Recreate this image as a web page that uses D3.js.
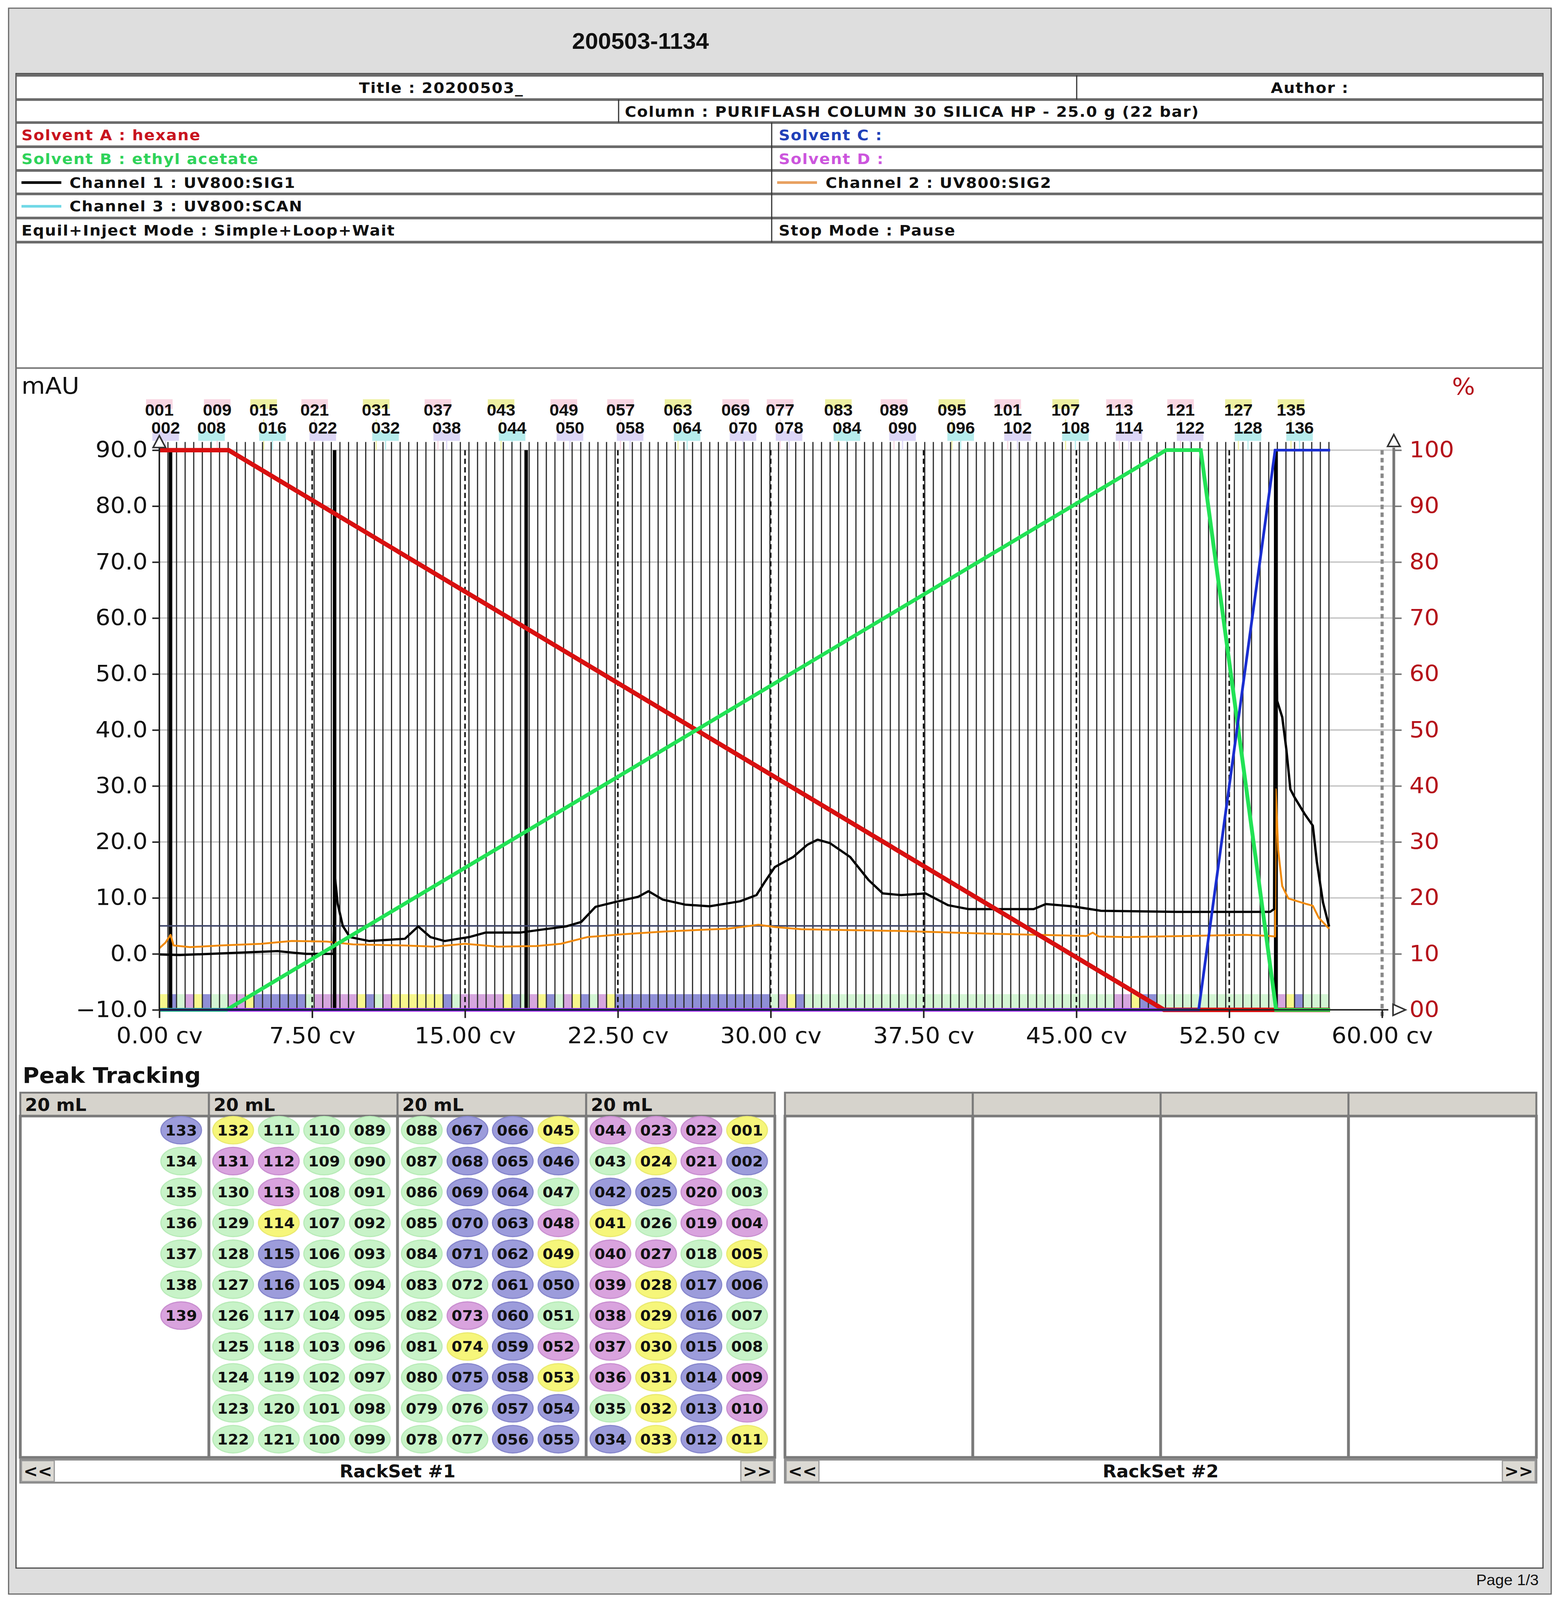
<!DOCTYPE html>
<html>
<head>
<meta charset="utf-8">
<script src="https://cdn.jsdelivr.net/npm/d3@7"></script>
<style>
  html, body { margin: 0; padding: 0; background: #fff; overflow: hidden; }
  svg { display: block; }
</style>
</head>
<body>
<div id="chart"></div>
<script>
// ---- run info ----
var runId = "200503-1134";
var infoTitle = "Title : 20200503_";
var infoAuthor = "Author :";
var infoColumn = "Column : PURIFLASH COLUMN 30 SILICA HP - 25.0 g (22 bar)";
var infoLeft = ["Solvent A : hexane", "Solvent B : ethyl acetate", "Channel 1 : UV800:SIG1", "Channel 3 : UV800:SCAN", "Equil+Inject Mode : Simple+Loop+Wait"];
var infoRight = ["Solvent C :", "Solvent D :", "Channel 2 : UV800:SIG2", "", "Stop Mode : Pause"];
var pageLabel = "Page 1/3";

// ---- axes ----
var mauTicks = [-10, 0, 10, 20, 30, 40, 50, 60, 70, 80, 90];
var cvTicks = [0, 7.5, 15, 22.5, 30, 37.5, 45, 52.5, 60];
var pctTicks = [0, 10, 20, 30, 40, 50, 60, 70, 80, 90, 100];

// ---- detector traces [cv, mAU] ----
var channel1 = [[0, -0.1], [1.0, -0.2], [2.5, 0.0], [4.5, 0.3], [5.8, 0.5], [6.6, 0.2], [7.2, 0.0], [8.55, 0.0],
  [8.6, 14.3], [8.75, 9.0], [9.0, 5.0], [9.35, 3.0], [10.3, 2.3], [11.2, 2.5], [12.05, 2.7], [12.7, 4.9],
  [13.3, 3.0], [14.0, 2.3], [15.2, 3.0], [16.0, 3.8], [17.7, 3.8], [18.7, 4.3], [19.95, 4.9], [20.7, 5.7],
  [21.4, 8.4], [22.4, 9.3], [23.5, 10.2], [24.0, 11.2], [24.7, 9.7], [25.8, 8.8], [27.0, 8.5], [28.5, 9.4],
  [29.3, 10.5], [29.7, 12.8], [30.2, 15.5], [31.1, 17.3], [31.8, 19.5], [32.3, 20.4], [32.9, 19.8], [33.9, 17.3],
  [34.8, 13.2], [35.5, 10.8], [36.4, 10.5], [37.6, 10.8], [38.7, 8.7], [39.7, 8.0], [42.9, 8.0], [43.5, 8.9],
  [44.8, 8.5], [46.2, 7.7], [49.9, 7.5], [54.5, 7.5], [54.7, 8.0], [54.76, 84.0], [54.85, 45.2], [55.1, 42.3],
  [55.3, 36.6], [55.5, 29.4], [55.7, 28.0], [56.2, 25.0], [56.6, 22.9], [56.8, 16.4], [57.1, 9.2], [57.4, 4.9]];
var channel2 = [[0, 1.0], [0.3, 2.0], [0.55, 3.4], [0.7, 1.5], [1.5, 1.2], [3.0, 1.5], [5.0, 1.8], [6.5, 2.3],
  [8.2, 2.2], [9.5, 1.7], [12.0, 1.5], [13.5, 1.3], [15.0, 1.8], [16.6, 1.3], [18.5, 1.4], [19.7, 1.8],
  [21.0, 3.0], [22.7, 3.5], [24.8, 4.0], [27.9, 4.5], [29.4, 5.2], [30.2, 4.8], [31.5, 4.4], [36.2, 4.1],
  [40.8, 3.6], [45.5, 3.2], [45.8, 3.8], [46.1, 3.1], [47.5, 3.0], [53.3, 3.4], [54.5, 3.2], [54.75, 3.1],
  [54.78, 29.4], [54.9, 18.6], [55.1, 12.1], [55.4, 9.9], [56.3, 8.9], [56.6, 8.6], [56.9, 6.4], [57.4, 4.5]];
var thresholdMau = 5.0;

// ---- solvent gradient [cv, %] ----
var solventA = [[0, 100], [3.4, 100], [49.3, 0], [57.45, 0]];
var solventB = [[0, 0], [3.3, 0], [49.4, 100], [51.1, 100], [54.8, 0], [57.45, 0]];
var solventC = [[0, 0], [51.0, 0], [54.75, 100], [57.45, 100]];
var solventD = [[0, 0], [57.45, 0]];

// ---- fractions ----
var tubeWidthCv = 0.422;
var tubeCount = 136;
var boldFractionCv = [0.55, 8.6, 18.0, 54.78];
var tubeColors = [
  "Y","B","G","P","Y","B","G","G","P","P","Y",
  "B","B","B","B","B","B","G","P","P","P","P",
  "P","Y","B","G","P","Y","Y","Y","Y","Y","Y",
  "B","G","P","P","P","P","P","Y","B","G","P",
  "Y","B","G","P","Y","B","G","P","Y","B","B",
  "B","B","B","B","B","B","B","B","B","B","B",
  "B","B","B","B","B","G","P","Y","B","G","G",
  "G","G","G","G","G","G","G","G","G","G","G",
  "G","G","G","G","G","G","G","G","G","G","G",
  "G","G","G","G","G","G","G","G","G","G","G",
  "G","P","P","Y","B","B","G","G","G","G","G",
  "G","G","G","G","G","G","G","G","G","P","Y",
  "B","G","G","G","G","G","P"];
var labelsTop = ["001","009","015","021","031","037","043","049","057","063","069","077","083","089","095","101","107","113","121","127","135"];
var labelsTopCv = [0.0, 2.84, 5.12, 7.62, 10.64, 13.67, 16.77, 19.85, 22.63, 25.45, 28.28, 30.46, 33.32, 36.05, 38.89, 41.63, 44.47, 47.11, 50.11, 52.95, 55.53];
var labelsTopBg = ["p","p","y","p","y","p","y","p","p","y","p","p","y","p","y","p","y","p","p","y","y"];
var labelsBottom = ["002","008","016","022","032","038","044","050","058","064","070","078","084","090","096","102","108","114","122","128","136"];
var labelsBottomCv = [0.31, 2.56, 5.55, 8.02, 11.1, 14.1, 17.31, 20.15, 23.1, 25.9, 28.64, 30.9, 33.74, 36.47, 39.32, 42.11, 44.95, 47.58, 50.58, 53.42, 55.95];
var labelsBottomBg = ["l","c","c","l","c","l","c","l","l","c","l","l","c","l","c","l","c","l","l","c","c"];

// ---- racks ----
var rackVolume = "20 mL";
var rackSetNames = ["RackSet #1", "RackSet #2"];
var tubesPerRack = 44, rowsPerRack = 11;

// ---- colours ----
var rackFill = {Y: "#f6f67a", B: "#9c9cdb", P: "#d9a3de", G: "#c8f3c8"};
var rackEdge = {Y: "#eaea70", B: "#8686cc", P: "#c98fd0", G: "#b8ebb8"};
var bandFill = {Y: "#f7f78c", B: "#8f8fd6", P: "#d6a6de", G: "#d4f5d4"};
var labelFill = {p: "#f8d6e2", y: "#eef0a2", l: "#dcd6f6", c: "#b6ecec"};

// drawing is laid out on a 3992 x 4308 page and fitted to the visible window
var W = 3992, H = 4308;
var viewW = window.innerWidth || W, viewH = window.innerHeight || H;
var svg = d3.select("#chart").append("svg")
    .attr("width", viewW).attr("height", Math.min(viewH, H))
    .attr("viewBox", "0 0 " + W + " " + H)
    .attr("preserveAspectRatio", "none")
    .style("font-family", "'DejaVu Sans', sans-serif");

svg.append("rect").attr("width", W).attr("height", H).attr("fill", "#fff");
// page frame
svg.append("rect").attr("x", 22).attr("y", 22).attr("width", 3950).attr("height", 4270)
    .attr("fill", "#dedede").attr("stroke", "#666").attr("stroke-width", 3);
svg.append("rect").attr("x", 41).attr("y", 198).attr("width", 3910).attr("height", 4024)
    .attr("fill", "#fff").attr("stroke", "#444").attr("stroke-width", 3);

svg.append("text").attr("x", 1640).attr("y", 131).attr("text-anchor", "middle")
    .attr("font-family", "'Liberation Sans', Arial, sans-serif").attr("font-weight", "bold")
    .attr("font-size", 60).attr("fill", "#111").text(runId);

svg.append("text").attr("x", 3940).attr("y", 4268).attr("text-anchor", "end")
    .attr("font-family", "'Liberation Sans', Arial, sans-serif")
    .attr("font-size", 40).attr("fill", "#111").text(pageLabel);

// ---- info table ----
var rowEdges = [203, 268, 330, 395, 459, 522, 587, 652];
var table = svg.append("g").attr("font-weight", "bold").attr("font-size", 40).attr("letter-spacing", 2);

table.selectAll("line.h").data(rowEdges).enter().append("line")
    .attr("x1", 41).attr("x2", 3951).attr("y1", function(d){ return d; }).attr("y2", function(d){ return d; })
    .attr("stroke", "#6a6a6a").attr("stroke-width", 7);
table.append("line").attr("x1", 2757).attr("x2", 2757).attr("y1", 203).attr("y2", 268).attr("stroke", "#333").attr("stroke-width", 3);
table.append("line").attr("x1", 1584).attr("x2", 1584).attr("y1", 268).attr("y2", 330).attr("stroke", "#333").attr("stroke-width", 3);
table.append("line").attr("x1", 1976).attr("x2", 1976).attr("y1", 330).attr("y2", 652).attr("stroke", "#333").attr("stroke-width", 3);

function rowBase(i) { return (rowEdges[i] + rowEdges[i + 1]) / 2 + 15; }
table.append("text").attr("x", 1130).attr("y", rowBase(0)).attr("text-anchor", "middle").attr("fill", "#111").text(infoTitle);
table.append("text").attr("x", 3354).attr("y", rowBase(0)).attr("text-anchor", "middle").attr("fill", "#111").text(infoAuthor);
table.append("text").attr("x", 1600).attr("y", rowBase(1)).attr("fill", "#111").text(infoColumn);

var leftColors = ["#c8141e", "#2fd35a", "#111", "#111", "#111"];
var rightColors = ["#2040b8", "#cc55dd", "#111", "#111", "#111"];
var leftSwatch = ["", "", "#000", "#6fd8e6", ""];
var rightSwatch = ["", "", "#e8a060", "", ""];

infoLeft.forEach(function(t, i) {
  var yb = rowBase(i + 2), xs = 55;
  if (leftSwatch[i]) {
    table.append("line").attr("x1", 55).attr("x2", 157).attr("y1", yb - 14).attr("y2", yb - 14)
        .attr("stroke", leftSwatch[i]).attr("stroke-width", 7);
    xs = 178;
  }
  table.append("text").attr("x", xs).attr("y", yb).attr("fill", leftColors[i]).text(t);
});
infoRight.forEach(function(t, i) {
  var yb = rowBase(i + 2), xs = 1994;
  if (rightSwatch[i]) {
    table.append("line").attr("x1", 1990).attr("x2", 2092).attr("y1", yb - 14).attr("y2", yb - 14)
        .attr("stroke", rightSwatch[i]).attr("stroke-width", 7);
    xs = 2114;
  }
  if (t) table.append("text").attr("x", xs).attr("y", yb).attr("fill", rightColors[i]).text(t);
});

svg.append("line").attr("x1", 41).attr("x2", 3951).attr("y1", 991).attr("y2", 991)
    .attr("stroke", "#777").attr("stroke-width", 4);

// ---- chromatogram ----
var x = d3.scaleLinear().domain([0, 60]).range([408, 3539]);
var y = d3.scaleLinear().domain([-10, 90]).range([2719, 1212]);
var pct = d3.scaleLinear().domain([0, 100]).range([2719, 1212]);
var rightAxisX = 3569;
var endCv = tubeCount * tubeWidthCv;

var plot = svg.append("g");

// horizontal grid
plot.selectAll("line.grid").data(mauTicks.slice(1)).enter().append("line")
    .attr("x1", x(0)).attr("x2", rightAxisX)
    .attr("y1", function(d){ return y(d); }).attr("y2", function(d){ return y(d); })
    .attr("stroke", "#c8c8c8").attr("stroke-width", 4);

// tube colour band
var tubes = d3.range(tubeCount);
plot.selectAll("rect.band").data(tubes).enter().append("rect")
    .attr("x", function(i){ return x(i * tubeWidthCv); })
    .attr("width", function(i){ return x((i + 1) * tubeWidthCv) - x(i * tubeWidthCv); })
    .attr("y", y(-7.2)).attr("height", y(-10) - y(-7.2))
    .attr("fill", function(i){ return bandFill[tubeColors[i]]; });

// labels above plot
function drawLabels(names, cvs, bgs, yBase, bgOffset) {
  var g = plot.append("g");
  names.forEach(function(n, i) {
    g.append("rect").attr("x", x(cvs[i]) - 34).attr("y", yBase + bgOffset).attr("width", 68).attr("height", 26)
        .attr("fill", labelFill[bgs[i]]);
    g.append("line").attr("x1", x(cvs[i])).attr("x2", x(cvs[i])).attr("y1", yBase + 10).attr("y2", y(90))
        .attr("stroke", labelFill[bgs[i]]).attr("stroke-width", 3);
    g.append("text").attr("x", x(cvs[i])).attr("y", yBase).attr("text-anchor", "middle")
        .attr("font-family", "'Liberation Sans', Arial, sans-serif").attr("font-weight", "bold")
        .attr("font-size", 44).attr("fill", "#111").text(n);
  });
}
drawLabels(labelsTop, labelsTopCv, labelsTopBg, 1119, -44);
drawLabels(labelsBottom, labelsBottomCv, labelsBottomBg, 1167, -6);

// fraction boundaries
plot.selectAll("line.frac").data(d3.range(tubeCount + 1)).enter().append("line")
    .attr("x1", function(i){ return x(i * tubeWidthCv); }).attr("x2", function(i){ return x(i * tubeWidthCv); })
    .attr("y1", 1190).attr("y2", y(-10))
    .attr("stroke", "#2a2a2a").attr("stroke-width", 3);
plot.selectAll("line.bold").data(boldFractionCv).enter().append("line")
    .attr("x1", function(d){ return x(d); }).attr("x2", function(d){ return x(d); })
    .attr("y1", y(90)).attr("y2", y(-10))
    .attr("stroke", "#000").attr("stroke-width", 9);

// dashed cv grid
plot.selectAll("line.vgrid").data(cvTicks.slice(1, -1)).enter().append("line")
    .attr("x1", function(d){ return x(d); }).attr("x2", function(d){ return x(d); })
    .attr("y1", y(90)).attr("y2", y(-10))
    .attr("stroke", "#111").attr("stroke-width", 4).attr("stroke-dasharray", "14,9");
plot.append("line").attr("x1", x(60)).attr("x2", x(60)).attr("y1", y(90)).attr("y2", y(-10) + 22)
    .attr("stroke", "#8a8a8a").attr("stroke-width", 8).attr("stroke-dasharray", "12,9");

// threshold
plot.append("line").attr("x1", x(0)).attr("x2", x(endCv))
    .attr("y1", y(thresholdMau)).attr("y2", y(thresholdMau))
    .attr("stroke", "#3d4468").attr("stroke-width", 4);

var mauLine = d3.line().x(function(d){ return x(d[0]); }).y(function(d){ return y(d[1]); });
var pctLine = d3.line().x(function(d){ return x(d[0]); }).y(function(d){ return pct(d[1]); });

plot.append("path").datum(channel2).attr("d", mauLine).attr("fill", "none")
    .attr("stroke", "#f08a0c").attr("stroke-width", 5).attr("stroke-linejoin", "round");
plot.append("path").datum(channel1).attr("d", mauLine).attr("fill", "none")
    .attr("stroke", "#000").attr("stroke-width", 6).attr("stroke-linejoin", "round");

plot.append("path").datum(solventD).attr("d", pctLine).attr("fill", "none").attr("stroke", "#ee3aee").attr("stroke-width", 10);
plot.append("path").datum(solventA).attr("d", pctLine).attr("fill", "none").attr("stroke", "#d81010").attr("stroke-width", 12);
plot.append("path").datum(solventB).attr("d", pctLine).attr("fill", "none").attr("stroke", "#22e255").attr("stroke-width", 10);
plot.append("path").datum(solventC).attr("d", pctLine).attr("fill", "none").attr("stroke", "#1a2ed0").attr("stroke-width", 7);

// axes
var axisFont = function(g, color) {
  g.selectAll("text").attr("font-family", "'DejaVu Sans', sans-serif").attr("font-size", 60).attr("fill", color);
};
var gl = svg.append("g").attr("transform", "translate(" + x(0) + ",0)")
    .call(d3.axisLeft(y).tickValues(mauTicks).tickFormat(d3.format(".1f")).tickSize(18).tickSizeOuter(0).tickPadding(12));
gl.call(axisFont, "#111");
gl.selectAll("line, path").attr("stroke", "#222").attr("stroke-width", 4);
gl.select(".domain").attr("d", "M0," + y(-10) + "V" + 1205);

var gb = svg.append("g").attr("transform", "translate(0," + y(-10) + ")")
    .call(d3.axisBottom(x).tickValues(cvTicks).tickFormat(function(d){ return d3.format(".2f")(d) + " cv"; })
      .tickSize(22).tickSizeOuter(0).tickPadding(26));
gb.call(axisFont, "#111");
gb.selectAll("line, path").attr("stroke", "#222").attr("stroke-width", 4);
gb.select(".domain").attr("d", "M" + x(0) + ",0H" + (rightAxisX - 14));

var gr = svg.append("g").attr("transform", "translate(" + rightAxisX + ",0)")
    .call(d3.axisRight(pct).tickValues(pctTicks).tickFormat(function(d){ return d === 0 ? "00" : d; })
      .tickSize(20).tickSizeOuter(0).tickPadding(20));
gr.call(axisFont, "#b5121b");
gr.selectAll("line").attr("stroke", "#777").attr("stroke-width", 4);
gr.select(".domain").attr("stroke", "#777").attr("stroke-width", 7).attr("d", "M0," + pct(0) + "V" + 1205);

// axis arrows
function triUp(cx, tip) {
  svg.append("path").attr("d", "M" + cx + "," + tip + "L" + (cx - 16) + "," + (tip + 32) + "L" + (cx + 16) + "," + (tip + 32) + "Z")
      .attr("fill", "#fff").attr("stroke", "#333").attr("stroke-width", 4);
}
triUp(x(0), 1173);
triUp(rightAxisX, 1170);
svg.append("path").attr("d", "M" + (rightAxisX + 30) + "," + y(-10) + "L" + (rightAxisX - 2) + "," + (y(-10) - 15) + "L" + (rightAxisX - 2) + "," + (y(-10) + 15) + "Z")
    .attr("fill", "#fff").attr("stroke", "#333").attr("stroke-width", 4);

svg.append("text").attr("x", 55).attr("y", 1060).attr("font-size", 62).attr("fill", "#111").text("mAU");
svg.append("text").attr("x", 3718).attr("y", 1062).attr("font-size", 62).attr("fill", "#b5121b").text("%");

// ---- peak tracking ----
svg.append("text").attr("x", 58).attr("y", 2916).attr("font-weight", "bold").attr("font-size", 58)
    .attr("fill", "#111").text("Peak Tracking");

var rackTop = 2942, headerBottom = 3005, rackBottom = 3924, navTop = 3930, navBottom = 3992;
var rowY0 = 3043, rowStep = 83.2;
var colOffsets = [62, 179, 295, 412];

function drawRackSet(left, right, name, filled) {
  var g = svg.append("g");
  var rw = (right - left) / 4;
  var racks = d3.range(4);
  g.selectAll("rect.head").data(racks).enter().append("rect")
      .attr("x", function(k){ return left + k * rw; }).attr("y", rackTop)
      .attr("width", rw).attr("height", headerBottom - rackTop)
      .attr("fill", "#d6d3cc").attr("stroke", "#7a7a7a").attr("stroke-width", 5);
  g.selectAll("rect.body").data(racks).enter().append("rect")
      .attr("x", function(k){ return left + k * rw; }).attr("y", headerBottom)
      .attr("width", rw).attr("height", rackBottom - headerBottom)
      .attr("fill", "#fff").attr("stroke", "#7a7a7a").attr("stroke-width", 7);
  if (filled) {
    g.selectAll("text.head").data(racks).enter().append("text")
        .attr("x", function(k){ return left + k * rw + 12; }).attr("y", headerBottom - 14)
        .attr("font-weight", "bold").attr("font-size", 46).attr("fill", "#111").text(rackVolume);
  }
  // nav bar
  g.append("rect").attr("x", left).attr("y", navTop).attr("width", right - left).attr("height", navBottom - navTop)
      .attr("fill", "#fff").attr("stroke", "#8a8a8a").attr("stroke-width", 5);
  g.append("rect").attr("x", left + 3).attr("y", navTop + 3).attr("width", 84).attr("height", navBottom - navTop - 6)
      .attr("fill", "#dcdad4").attr("stroke", "#999").attr("stroke-width", 3);
  g.append("rect").attr("x", right - 87).attr("y", navTop + 3).attr("width", 84).attr("height", navBottom - navTop - 6)
      .attr("fill", "#dcdad4").attr("stroke", "#999").attr("stroke-width", 3);
  g.append("text").attr("x", left + 45).attr("y", navTop + 47).attr("text-anchor", "middle")
      .attr("font-weight", "bold").attr("font-size", 44).attr("fill", "#111").text("<<");
  g.append("text").attr("x", right - 45).attr("y", navTop + 47).attr("text-anchor", "middle")
      .attr("font-weight", "bold").attr("font-size", 44).attr("fill", "#111").text(">>");
  g.append("text").attr("x", (left + right) / 2).attr("y", navTop + 48).attr("text-anchor", "middle")
      .attr("font-weight", "bold").attr("font-size", 46).attr("fill", "#111").text(name);
  return rw;
}

var rs1Left = 52, rs1Right = 1984;
var rw1 = drawRackSet(rs1Left, rs1Right, rackSetNames[0], true);
drawRackSet(2010, 3934, rackSetNames[1], false);

var tubePos = tubeColors.map(function(c, k) {
  var rackFromRight = Math.floor(k / tubesPerRack);
  var within = k % tubesPerRack;
  var col = Math.floor(within / rowsPerRack);
  var row = within % rowsPerRack;
  if (col % 2 === 1) row = rowsPerRack - 1 - row;
  var rackLeft = rs1Left + (3 - rackFromRight) * rw1;
  return {n: k + 1, c: c, cx: rackLeft + colOffsets[3 - col], cy: rowY0 + row * rowStep};
});

var cells = svg.append("g").selectAll("g").data(tubePos).enter().append("g");
cells.append("ellipse")
    .attr("cx", function(d){ return d.cx; }).attr("cy", function(d){ return d.cy; })
    .attr("rx", 52).attr("ry", 37)
    .attr("fill", function(d){ return rackFill[d.c]; })
    .attr("stroke", function(d){ return rackEdge[d.c]; }).attr("stroke-width", 3);
cells.append("text")
    .attr("x", function(d){ return d.cx; }).attr("y", function(d){ return d.cy + 14; })
    .attr("text-anchor", "middle").attr("font-weight", "bold").attr("font-size", 39).attr("fill", "#111")
    .text(function(d){ return d3.format("03d")(d.n); });
</script>
</body>
</html>
